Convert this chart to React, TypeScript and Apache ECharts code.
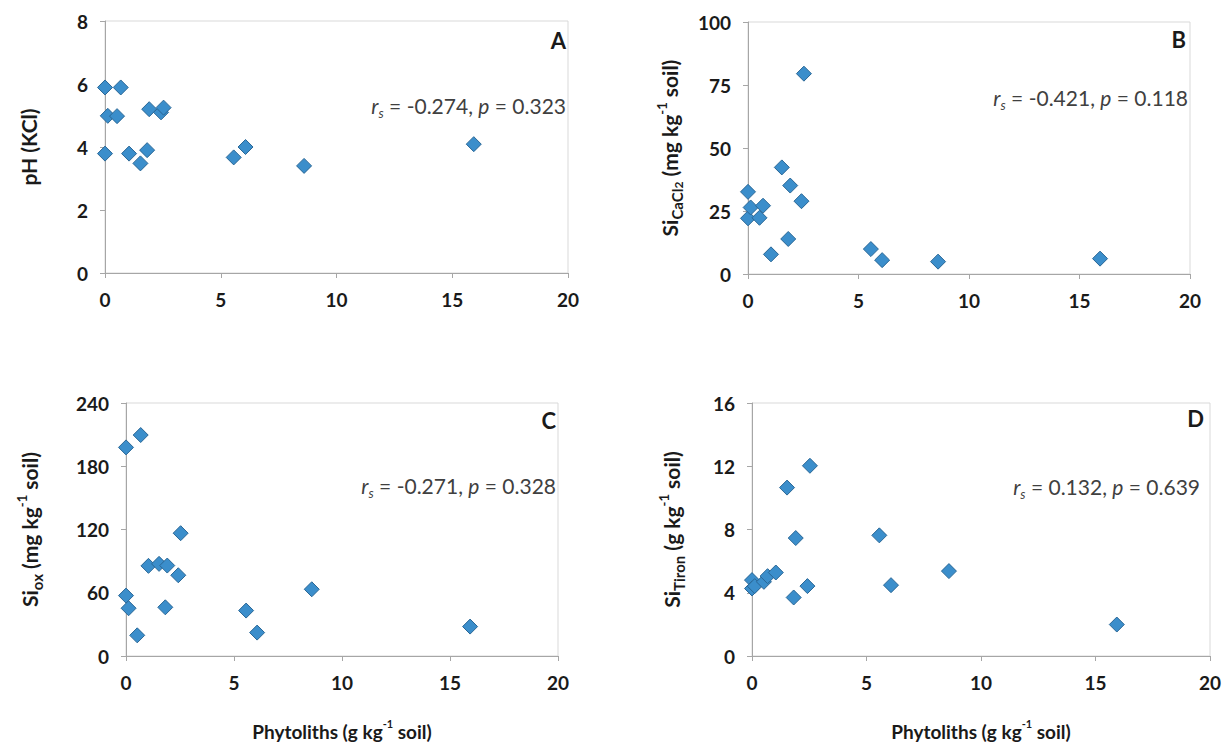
import React, { useEffect, useRef } from "react";
import * as echarts from "echarts";

// Shared x: phytolith content (g kg-1 soil)
const phytoliths = [0, 0, 0.12, 0.52, 0.68, 1.04, 1.53, 1.82, 1.91, 2.42, 2.53, 5.56, 6.07, 8.6, 15.93];
// Panel A: pH (KCl)
const phKCl = [5.89, 3.79, 4.99, 4.98, 5.89, 3.79, 3.48, 3.9, 5.2, 5.1, 5.25, 3.67, 4.0, 3.4, 4.09];
// Panel B: Si CaCl2 (mg kg-1 soil)
const siCaCl2 = [32.6, 22.1, 26.4, 22.3, 27.1, 7.8, 42.3, 13.9, 35.1, 28.9, 79.5, 9.9, 5.5, 4.9, 6.1];
// Panel C: Si ox (mg kg-1 soil)
const siOx = [197.9, 57.3, 45.3, 19.6, 209.6, 85.5, 87.4, 46.2, 85.8, 76.6, 116.5, 43.1, 22.2, 63.3, 27.9];
// Panel D: Si Tiron (g kg-1 soil)
const siTiron = [4.8, 4.27, 4.42, 4.69, 5.05, 5.28, 10.65, 3.7, 7.46, 4.42, 12.03, 7.63, 4.48, 5.37, 1.99];

const panelLetters = ["A", "B", "C", "D"];
const stats = [
  { r: "-0.274", p: "0.323" },
  { r: "-0.421", p: "0.118" },
  { r: "-0.271", p: "0.328" },
  { r: "0.132", p: "0.639" },
];
const yRanges = [
  { max: 8, interval: 2 },
  { max: 100, interval: 25 },
  { max: 240, interval: 60 },
  { max: 16, interval: 4 },
];
const yNames = [
  "{b|pH (KCl)}",
  "{b|Si}{sub|CaCl}{sub2|2}{b| (mg kg}{sup|-1}{b| soil)}",
  "{b|Si}{sub|ox}{b| (mg kg}{sup|-1}{b| soil)}",
  "{b|Si}{sub|Tiron}{b| (g kg}{sup|-1}{b| soil)}",
];
const xName = "{b|Phytoliths (g kg}{sup|-1}{b| soil)}";
const seriesValues = [phKCl, siCaCl2, siOx, siTiron];

const FONT = "Lato, 'Open Sans', sans-serif";

const grids = [
  { left: 105, top: 21, width: 463, height: 252 },
  { left: 748, top: 22, width: 442, height: 252 },
  { left: 126, top: 403, width: 432, height: 253 },
  { left: 752, top: 403, width: 458, height: 253 },
];
const yNameGaps = [62, 64, 82, 66];
const statPos = [
  { x: 566, y: 105 },
  { x: 1188, y: 97 },
  { x: 556, y: 485 },
  { x: 1200, y: 486 },
];
const letterPos = [
  { x: 566, y: 40 },
  { x: 1186, y: 39 },
  { x: 556, y: 420 },
  { x: 1204, y: 418 },
];

const C = "#1a1a1a";
const mkRich = (size: number) => ({
  b: { fontSize: size, fontWeight: "bold", lineHeight: size + 8, verticalAlign: "middle", color: C, fontFamily: FONT },
  sub: { fontSize: Math.round(size * 0.7), fontWeight: "bold", lineHeight: Math.round(size * 0.7), verticalAlign: "bottom", color: C, fontFamily: FONT },
  sub2: { fontSize: Math.round(size * 0.55), fontWeight: "bold", lineHeight: Math.round(size * 0.45), verticalAlign: "bottom", color: C, fontFamily: FONT },
  sup: { fontSize: Math.round(size * 0.6), fontWeight: "bold", lineHeight: Math.round(size * 0.6), verticalAlign: "top", color: C, fontFamily: FONT },
});
const yNameRich = mkRich(21);
const xNameRich = mkRich(19);

export default function App() {
  const ref = useRef<HTMLDivElement>(null);
  useEffect(() => {
    const chart = echarts.init(ref.current!, null, { renderer: "svg" });
    const option: any = {
      animation: false,
      backgroundColor: "#ffffff",
      grid: grids.map((g) => ({ ...g, show: true, borderColor: "#d9d9d9", borderWidth: 1, backgroundColor: "transparent" })),
      xAxis: grids.map((_, i) => ({
        type: "value",
        gridIndex: i,
        min: 0,
        max: 20,
        interval: 5,
        name: i >= 2 ? xName : "",
        nameLocation: "middle",
        nameGap: 62,
        nameTextStyle: { rich: xNameRich },
        axisLine: { show: true, lineStyle: { color: "#a6a6a6", width: 1 } },
        axisTick: { show: true, inside: false, length: 5, lineStyle: { color: "#a6a6a6" } },
        splitLine: { show: false },
        axisLabel: { margin: 17, fontSize: 19, fontWeight: "bold", color: C, fontFamily: FONT },
      })),
      yAxis: grids.map((_, i) => ({
        type: "value",
        gridIndex: i,
        min: 0,
        max: yRanges[i].max,
        interval: yRanges[i].interval,
        name: yNames[i],
        nameLocation: "middle",
        nameGap: yNameGaps[i],
        nameTextStyle: { rich: yNameRich },
        axisLine: { show: true, lineStyle: { color: "#a6a6a6", width: 1 } },
        axisTick: { show: true, inside: false, length: 5, lineStyle: { color: "#a6a6a6" } },
        splitLine: { show: false },
        axisLabel: { margin: 17, fontSize: 19, fontWeight: "bold", color: C, fontFamily: FONT },
      })),
      series: seriesValues.map((vals, i) => ({
        type: "scatter",
        xAxisIndex: i,
        yAxisIndex: i,
        symbol: "diamond",
        symbolSize: 15,
        itemStyle: { color: "#3b8ecb", borderColor: "#2a6796", borderWidth: 1, opacity: 1 },
        data: vals.map((v, k) => [phytoliths[k], v]),
      })),
      graphic: [
        ...stats.map((s, i) => ({
          type: "text",
          x: statPos[i].x,
          y: statPos[i].y,
          style: {
            text: `{i|r}{s|s}{n| = ${s.r}, }{i|p}{n| = ${s.p}}`,
            align: "right",
            verticalAlign: "middle",
            rich: {
              i: { fontSize: 21, fontStyle: "italic", fill: "#404040", lineHeight: 28, verticalAlign: "middle", fontFamily: FONT },
              s: { fontSize: 13, fontStyle: "italic", fill: "#404040", lineHeight: 13, verticalAlign: "bottom", fontFamily: FONT },
              n: { fontSize: 21, fill: "#404040", lineHeight: 28, verticalAlign: "middle", fontFamily: FONT },
            },
          },
        })),
        ...panelLetters.map((l, i) => ({
          type: "text",
          x: letterPos[i].x,
          y: letterPos[i].y,
          style: {
            text: l,
            align: "right",
            verticalAlign: "middle",
            fontSize: 22,
            fontWeight: "bold",
            fill: C,
            fontFamily: FONT,
          },
        })),
      ],
    };
    chart.setOption(option);
    return () => chart.dispose();
  }, []);
  return (
    <div
      ref={ref}
      style={{ position: "absolute", left: 0, top: 0, width: 1226, height: 744, background: "#fff" }}
    />
  );
}
